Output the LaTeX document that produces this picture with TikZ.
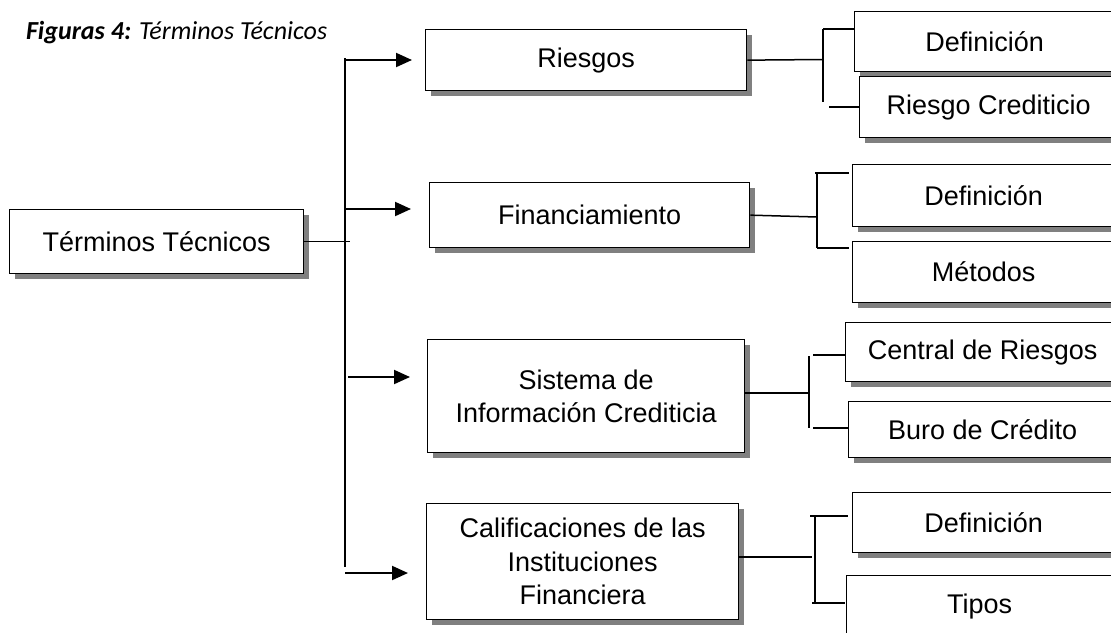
\documentclass[tikz,border=0pt]{standalone}
\usepackage{fontspec}
\setmainfont{Liberation Sans}
\newfontfamily\capfont{Carlito}
\usepackage{tikz}
\usetikzlibrary{arrows.meta,shadows,positioning}

\begin{document}
\begin{tikzpicture}[x=0.5pt,y=-0.5pt,>={Triangle[length=8pt,width=7pt]},
        box/.style={draw, line width=0.65pt, fill=white, anchor=north west, align=center,
        inner sep=0pt, font=\fontsize{13.5}{16.8}\selectfont,
        drop shadow={shadow xshift=2.5pt, shadow yshift=-2.5pt, fill=black!50, opacity=1}},
        feed/.style={->, line width=1pt},
        link/.style={line width=0.75pt}]
      \clip (0,0) rectangle (1111,632);
      \node [anchor=west, font=\capfont\fontsize{13}{15}\selectfont] (cap) at (19,33)
        {\textbf{\textit{Figuras 4:}} \textit{Términos Técnicos}};
      % first level
      \node [box, minimum width=147pt, minimum height=32pt] (root) at (9,209) {Términos Técnicos};
      \node [box, minimum width=160.5pt, minimum height=30.5pt] (ries) at (425,29) {Riesgos};
      \node [box, minimum width=160pt, minimum height=32.5pt] (fin) at (429,182) {Financiamiento};
      \node [box, minimum width=158.5pt, minimum height=56.5pt] (sis) at (427,339) {Sistema de\\Información Crediticia};
      \node [box, minimum width=156pt, minimum height=58pt] (cal) at (426,503) {Calificaciones de las\\Instituciones\\Financiera};
      % second level
      \node [box, minimum width=130pt, minimum height=30pt] (rdef) at (854,11) {Definición};
      \node [box, minimum width=129pt, minimum height=30.5pt] (rcred) at (859,76) {Riesgo Crediticio};
      \node [box, minimum width=131pt, minimum height=31pt] (fdef) at (852,164) {Definición};
      \node [box, minimum width=131pt, minimum height=30.5pt] (fmet) at (852,241) {Métodos};
      \node [box, minimum width=137pt, minimum height=29.5pt] (scen) at (845,322) {Central de Riesgos};
      \node [box, minimum width=134pt, minimum height=28pt] (sburo) at (848,401) {Buro de Crédito};
      \node [box, minimum width=131pt, minimum height=30pt] (cdef) at (852,492) {Definición};
      \node [box, minimum width=133pt, minimum height=31pt] (ctip) at (846,575) {Tipos};
      % trunk
      \coordinate (t1) at (345,60);
      \coordinate (t2) at (345,209);
      \coordinate (t3) at (348,377);
      \coordinate (t4) at (345,573);
      \draw [link] (345,58) -- (345,567);
      \draw [link] (root.east) -- ++(46,0);
      \draw [feed, shorten >=6.5pt] (t1) -- (t1 -| ries.west);
      \draw [feed, shorten >=9pt] (t2) -- (t2 -| fin.west);
      \draw [feed, shorten >=8.5pt] (t3) -- (t3 -| sis.west);
      \draw [feed, shorten >=9pt] (t4) -- (t4 -| cal.west);
      % brackets
      \draw [link] (ries.east) -- (823,59.5);
      \draw [link] (823,29) -- (823,102);
      \draw [link] (823,29) -- (rdef.west |- 0,29);
      \draw [link] (829,107) -- (rcred.west |- 0,107);
      \draw [link] (fin.east) -- (817,217);
      \draw [link] (817,173) -- (817,248);
      \draw [link] (815,173) -- (849,173);
      \draw [link] (817,248) -- (849,248);
      \draw [link] (sis.east |- 0,393) -- (809,393);
      \draw [link] (809,356) -- (809,428);
      \draw [link] (813,355) -- (scen.west |- 0,355);
      \draw [link] (813,428) -- (sburo.west |- 0,428);
      \draw [link] (cal.east |- 0,557) -- (812,557);
      \draw [link] (815,516) -- (815,603);
      \draw [link] (810,516) -- (848,516);
      \draw [link] (812,603) -- (845,603);
    \end{tikzpicture}
\end{document}
